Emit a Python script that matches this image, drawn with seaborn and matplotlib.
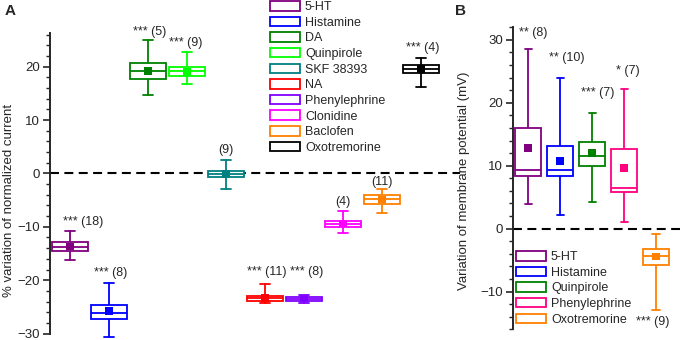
import numpy as np
import pandas as pd
import matplotlib
matplotlib.use('Agg')
import matplotlib.pyplot as plt
import seaborn as sns
from matplotlib.patches import Patch
from matplotlib.ticker import MultipleLocator

# Panel A: % variation of normalized current
a_drugs = ['5-HT', 'Histamine', 'DA', 'Quinpirole', 'SKF 38393', 'NA',
           'Phenylephrine', 'Clonidine', 'Baclofen', 'Oxotremorine']
a_colors = ['#800080', '#0000ff', '#008000', '#00ff00', '#008080', '#ff0000',
            '#8000ff', '#ff00ff', '#ff8000', '#000000']
a_low = [-16.3, -30.7, 14.7, 16.7, -2.9, -24.3, -24.2, -11.1, -7.5, 16.2]
a_q1 = [-14.6, -27.2, 17.6, 18.2, -0.6, -23.9, -23.9, -10.1, -5.7, 18.9]
a_med = [-13.7, -26.2, 19.2, 19.1, -0.1, -23.4, -23.5, -9.5, -4.8, 19.6]
a_q3 = [-12.9, -24.6, 20.7, 20.0, 0.5, -22.9, -23.1, -8.9, -4.0, 20.3]
a_high = [-10.7, -20.5, 25.0, 22.7, 2.5, -20.8, -22.7, -7.0, -2.9, 21.6]
a_mean = [-13.7, -25.8, 19.2, 19.0, -0.1, -23.3, -23.4, -9.4, -4.9, 19.6]
a_notes = ['*** (18)', '*** (8)', '*** (5)', '*** (9)', '(9)', '*** (11)',
           '*** (8)', '(4)', '(11)', '*** (4)']

# Panel B: variation of membrane potential (mV)
b_drugs = ['5-HT', 'Histamine', 'Quinpirole', 'Phenylephrine', 'Oxotremorine']
b_colors = ['#800080', '#0000ff', '#008000', '#ff0080', '#ff8000']
b_low = [3.9, 2.1, 4.3, 1.0, -12.9]
b_q1 = [8.4, 8.4, 10.0, 5.9, -5.8]
b_med = [9.4, 9.4, 11.5, 6.5, -4.3]
b_q3 = [16.0, 13.2, 13.7, 12.6, -3.2]
b_high = [28.5, 23.9, 18.4, 22.2, -0.9]
b_mean = [12.8, 10.8, 12.0, 9.6, -4.4]
b_notes = ['** (8)', '** (10)', '*** (7)', '* (7)', '*** (9)']

# annotation placement (layout only)
a_note_x = [0.33, 1.03, 2.05, 2.97, 4.0, 5.05, 6.08, 7.0, 8.0, 9.05]
a_note_y = [-9.1, -18.7, 26.5, 24.4, 4.4, -18.5, -18.5, -5.4, -1.6, 23.4]
b_note_x = [0.16, 1.2, 2.17, 3.13, 3.9]
b_note_y = [31.1, 27.1, 21.5, 25.1, -14.8]

sns.set_style('ticks')
plt.rcParams['font.family'] = ['Liberation Sans', 'DejaVu Sans']

LW = 1.3


def draw_boxes(ax, drugs, colors, low, q1, med, q3, high, mean, width, capw):
    stats = [dict(whislo=l, q1=a, med=m, q3=b, whishi=h, fliers=[])
             for l, a, m, b, h in zip(low, q1, med, q3, high)]
    bp = ax.bxp(stats, positions=range(len(drugs)), widths=width, capwidths=capw,
                patch_artist=True, showfliers=False, manage_ticks=False)
    for i, c in enumerate(colors):
        bp['boxes'][i].set(facecolor='white', edgecolor=c, linewidth=LW, zorder=2)
        bp['medians'][i].set(color=c, linewidth=LW, zorder=2.5)
        for k in (2 * i, 2 * i + 1):
            bp['whiskers'][k].set(color=c, linewidth=LW, zorder=1.5)
            bp['caps'][k].set(color=c, linewidth=LW, zorder=1.5)
    df = pd.DataFrame({'pos': range(len(drugs)), 'mean': mean, 'drug': drugs})
    sns.scatterplot(data=df, x='pos', y='mean', hue='drug',
                    palette=dict(zip(drugs, colors)), marker='s', s=30,
                    linewidth=0, legend=False, ax=ax, zorder=3)


def style_axis(ax, lo, hi):
    for s in ('top', 'right', 'bottom'):
        ax.spines[s].set_visible(False)
    ax.spines['left'].set_linewidth(1.4)
    ax.spines['left'].set_bounds(lo, hi)
    ax.xaxis.set_visible(False)
    ax.yaxis.set_major_locator(MultipleLocator(10))
    ax.yaxis.set_minor_locator(MultipleLocator(2))
    ax.tick_params(axis='y', which='major', direction='out', length=5, width=1.2,
                   labelsize=9.5, pad=2)
    ax.tick_params(axis='y', which='minor', direction='out', length=3, width=1.0)
    ax.axhline(0, color='black', lw=1.5, ls=(0, (4.3, 2.6)), zorder=1)


fig = plt.figure(figsize=(6.8, 3.4), dpi=100)

# ---- Panel A ----
axA = fig.add_axes([50 / 680, 0, 410 / 680, 307 / 340])
draw_boxes(axA, a_drugs, a_colors, a_low, a_q1, a_med, a_q3, a_high, a_mean,
           width=0.94, capw=0.25)
axA.set_xlim(-0.513, 10.0)
axA.set_ylim(-31.2, 26.3)
style_axis(axA, -30, 26.3)
axA.set_yticks([-30, -20, -10, 0, 10, 20])
axA.set_xlabel('')
axA.set_ylabel('% variation of normalized current', fontsize=9.5)
axA.yaxis.set_label_coords(-0.085, 0.456)
for x, y, t in zip(a_note_x, a_note_y, a_notes):
    axA.text(x, y, t, ha='center', va='center', fontsize=9)

fig.legend(handles=[Patch(facecolor='white', edgecolor=c, linewidth=LW, label=d)
                    for d, c in zip(a_drugs, a_colors)],
           loc='upper left', bbox_to_anchor=(270 / 680, 1 - 1 / 340),
           frameon=False, borderpad=0, borderaxespad=0, handlelength=2.4,
           handleheight=0.8, handletextpad=0.4, labelspacing=0.28, fontsize=9)

# ---- Panel B ----
axB = fig.add_axes([512.7 / 680, 0, 167.3 / 680, 313.3 / 340])
draw_boxes(axB, b_drugs, b_colors, b_low, b_q1, b_med, b_q3, b_high, b_mean,
           width=0.81, capw=0.22)
axB.set_xlim(-0.48, 4.75)
axB.set_ylim(-17.7, 32.1)
style_axis(axB, -16, 32.1)
axB.set_yticks([-10, 0, 10, 20, 30])
axB.set_xlabel('')
axB.set_ylabel('Variation of membrane potential (mV)', fontsize=9.5)
axB.yaxis.set_label_coords(-0.255, 0.507)
for x, y, t in zip(b_note_x, b_note_y, b_notes):
    axB.text(x, y, t, ha='center', va='center', fontsize=9)

axB.legend(handles=[Patch(facecolor='white', edgecolor=c, linewidth=LW, label=d)
                    for d, c in zip(b_drugs, b_colors)],
           loc='upper left', bbox_to_anchor=(516 / 680, 1 - 251 / 340),
           bbox_transform=fig.transFigure,
           frameon=False, borderpad=0, borderaxespad=0, handlelength=2.4,
           handleheight=0.8, handletextpad=0.4, labelspacing=0.28, fontsize=9)

fig.text(5 / 680, 1 - 4 / 340, 'A', ha='left', va='top', fontsize=11, weight='bold')
fig.text(455 / 680, 1 - 4 / 340, 'B', ha='left', va='top', fontsize=11, weight='bold')

fig.savefig('out.png', dpi=100)
